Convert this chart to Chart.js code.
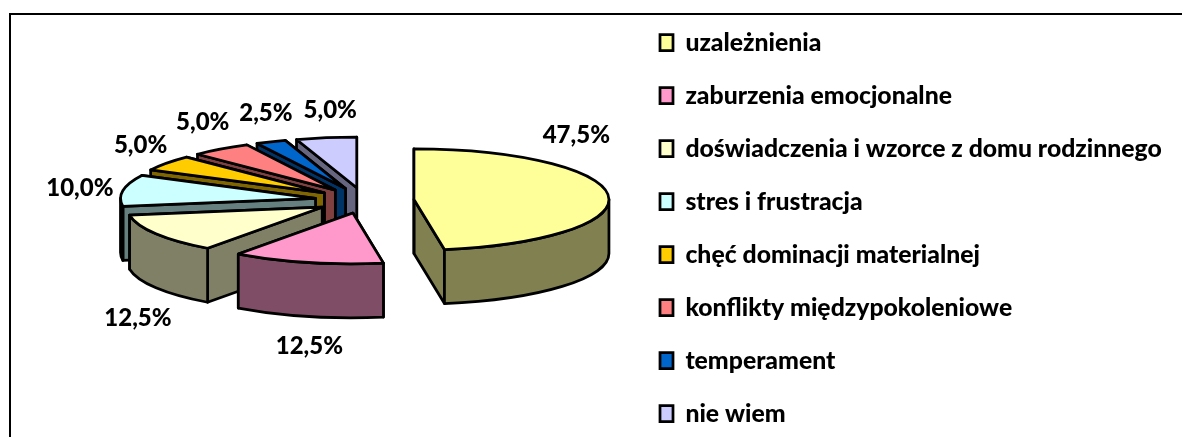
<!DOCTYPE html>
<html>
<head>
<meta charset="utf-8">
<title>Pie</title>
<script src="https://cdn.jsdelivr.net/npm/chart.js@4/dist/chart.umd.min.js"></script>
<style>
    html, body { margin: 0; padding: 0; background: #fff; overflow: hidden; height: 437px; }
    #wrap { position: relative; width: 1182px; height: 437px; overflow: hidden; }
    #frame { position: absolute; left: 9px; top: 13px; width: 1300px; height: 600px; border: 2px solid #000; }
    #chart { position: absolute; left: 0; top: 0; }
</style>
</head>
<body>
<div id="wrap">
    <div id="frame"></div>
    <div style="position:absolute;left:0;top:0;width:1182px;height:480px"><canvas id="chart"></canvas></div>
</div>
<script>
const categories = ['uzależnienia', 'zaburzenia emocjonalne', 'doświadczenia i wzorce z domu rodzinnego', 'stres i frustracja', 'chęć dominacji materialnej', 'konflikty międzypokoleniowe', 'temperament', 'nie wiem'];
const values = [47.5, 12.5, 12.5, 10, 5, 5, 2.5, 5];
const topColors = ['#FFFF99', '#FF99CC', '#FFFFCC', '#CCFFFF', '#FFCC00', '#FF8080', '#0066CC', '#CCCCFF'];
const sideColors = ['#808050', '#804D66', '#808066', '#668080', '#806600', '#804040', '#003366', '#666680'];

const FONT = 'Lato, sans-serif';
const pie = { cx: 364.5, cy: 200.5, ratio: 0.26, depth: 54, explode: 49.6, line: 2.75 };
// label nudges from the rim point of each slice, Excel "best fit" is not radial
const labelNudge = [[-32, -60], [2, 84], [-18, 85], [-43, -2], [-26, -18], [-18, -27], [-5, -28], [4, -27]];
// back slices first so the front ones cover their walls
const drawOrder = [7, 6, 5, 4, 3, 2, 1, 0];

function sliceCenter(arc) {
    const mid = (arc.startAngle + arc.endAngle) / 2;
    return {
        x: pie.cx + Math.cos(mid) * pie.explode,
        y: pie.cy + Math.sin(mid) * pie.explode * pie.ratio
    };
}

function drawWalls(ctx, arc, side) {
    const c = sliceCenter(arc);
    const r = arc.outerRadius;
    const ry = r * pie.ratio;
    ctx.fillStyle = side;
    ctx.strokeStyle = '#000';
    ctx.lineWidth = pie.line;
    ctx.lineJoin = 'round';

    // end wall first, the start wall covers it on the slices at the left
    [arc.endAngle, arc.startAngle].forEach(a => {
        const px = c.x + Math.cos(a) * r;
        const py = c.y + Math.sin(a) * ry;
        ctx.beginPath();
        ctx.moveTo(c.x, c.y);
        ctx.lineTo(px, py);
        ctx.lineTo(px, py + pie.depth);
        ctx.lineTo(c.x, c.y + pie.depth);
        ctx.closePath();
        ctx.fill();
        ctx.stroke();
    });

    // outer wall, only the part of the rim that faces the viewer
    const from = Math.max(arc.startAngle, 0);
    const to = Math.min(arc.endAngle, Math.PI);
    if (to > from) {
        ctx.beginPath();
        ctx.ellipse(c.x, c.y, r, ry, 0, from, to);
        ctx.ellipse(c.x, c.y + pie.depth, r, ry, 0, to, from, true);
        ctx.closePath();
        ctx.fill();
        ctx.stroke();
    }
}

const pie3d = {
    id: 'pie3d',
    beforeDatasetsDraw(chart) {
        const ctx = chart.ctx;
        const arcs = chart.getDatasetMeta(0).data;
        drawOrder.forEach(i => {
            const arc = arcs[i];
            const c = sliceCenter(arc);
            drawWalls(ctx, arc, sideColors[i]);

            // top face is the library arc squashed into the ellipse
            ctx.save();
            ctx.translate(c.x, c.y);
            ctx.scale(1, pie.ratio);
            ctx.translate(-arc.x, -arc.y);
            arc.draw(ctx);
            ctx.restore();

            // outline afterwards so the stroke does not get squashed too
            const r = arc.outerRadius;
            ctx.strokeStyle = '#000';
            ctx.lineWidth = pie.line;
            ctx.lineJoin = 'round';
            ctx.beginPath();
            ctx.moveTo(c.x, c.y);
            ctx.ellipse(c.x, c.y, r, r * pie.ratio, 0, arc.startAngle, arc.endAngle);
            ctx.closePath();
            ctx.stroke();
        });

        ctx.fillStyle = '#000';
        ctx.font = '900 24px ' + FONT;
        ctx.textAlign = 'center';
        ctx.textBaseline = 'middle';
        arcs.forEach((arc, i) => {
            const c = sliceCenter(arc);
            const mid = (arc.startAngle + arc.endAngle) / 2;
            const x = c.x + Math.cos(mid) * arc.outerRadius + labelNudge[i][0];
            const y = c.y + Math.sin(mid) * arc.outerRadius * pie.ratio + labelNudge[i][1];
            ctx.fillText(values[i].toFixed(1).replace('.', ',') + '%', x, y);
        });
        return false;
    },
    afterLayout(chart) {
        // legend sits where Excel put it, not flush right
        chart.legend.left = 660 - chart.options.plugins.legend.labels.padding;
        chart.legend.top = 2;
    }
};

new Chart(document.getElementById('chart'), {
    type: 'pie',
    data: {
        labels: categories,
        datasets: [{
            data: values,
            backgroundColor: topColors,
            borderWidth: 0
        }]
    },
    plugins: [pie3d],
    options: {
        responsive: true,
        maintainAspectRatio: false,
        animation: false,
        radius: 195,
        plugins: {
            tooltip: { enabled: false },
            legend: {
                position: 'right',
                align: 'start',
                labels: {
                    color: '#000',
                    font: { family: FONT, size: 24.75, weight: '900' },
                    boxWidth: 13,
                    boxHeight: 16,
                    padding: 28.25,
                    generateLabels(chart) {
                        return categories.map((text, i) => ({
                            text,
                            index: i,
                            fillStyle: topColors[i],
                            strokeStyle: '#000',
                            lineWidth: 2.75,
                            fontColor: '#000'
                        }));
                    }
                }
            }
        }
    }
});
</script>
</body>
</html>
